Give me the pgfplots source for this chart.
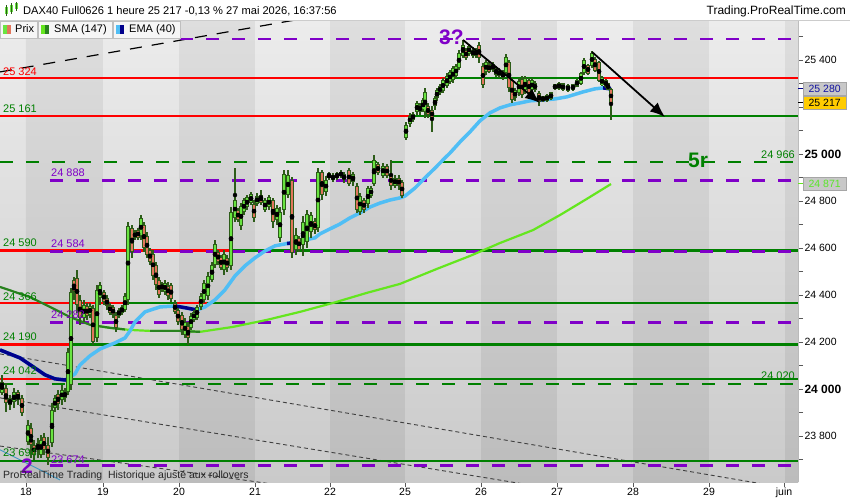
\documentclass[border=0pt]{standalone}
\usepackage{pgfplots}
\pgfplotsset{compat=1.18}
\usepackage{pgfplotstable}
\usepackage{fontspec}
\setmainfont{Liberation Sans}
\usetikzlibrary{arrows.meta}
\definecolor{rgreen}{RGB}{0,128,0}
\definecolor{rred}{RGB}{255,0,0}
\definecolor{rpurple}{RGB}{128,0,200}
\definecolor{candleline}{RGB}{45,92,25}
\definecolor{upfill}{RGB}{105,228,65}
\definecolor{downfill}{RGB}{226,118,92}
\definecolor{emalight}{RGB}{80,190,245}
\definecolor{emadark}{RGB}{0,0,140}
\definecolor{smalight}{RGB}{100,230,30}
\definecolor{smadark}{RGB}{40,130,30}
\definecolor{bltop}{RGB}{236,236,236}
\definecolor{blbot}{RGB}{202,202,202}
\definecolor{bdtop}{RGB}{222,222,222}
\definecolor{bdbot}{RGB}{188,188,188}

\pgfplotstableread{
x o h l c
2 23983 24060 23975 24030
10 23932 23975 23910 23962
14 23945 24004 23919 23987
28 23775 23868 23762 23847
38 23741 23792 23707 23770
41 23719 23805 23707 23783
52 23770 23940 23754 23910
55 23919 23975 23902 23962
62 23953 24017 23932 23996
68 23987 24175 23975 24158
71 24017 24430 23996 24413
84 24302 24379 24286 24358
90 24315 24366 24302 24353
97 24217 24443 24200 24421
100 24388 24456 24358 24443
119 24311 24345 24302 24336
122 24324 24358 24315 24349
125 24336 24409 24328 24396
128 24379 24711 24358 24694
135 24643 24676 24634 24668
141 24651 24740 24634 24727
162 24422 24456 24413 24447
165 24413 24464 24400 24451
185 24230 24302 24217 24285
191 24260 24324 24251 24311
194 24294 24336 24285 24328
197 24302 24358 24294 24349
201 24349 24409 24336 24396
204 24379 24464 24366 24451
208 24396 24498 24379 24481
212 24464 24541 24456 24528
215 24528 24634 24515 24617
224 24507 24592 24485 24575
231 24524 24774 24507 24753
235 24727 24940 24710 24804
241 24693 24791 24676 24778
244 24753 24813 24740 24804
247 24774 24826 24761 24817
251 24791 24838 24783 24830
257 24787 24834 24778 24821
265 24761 24813 24753 24804
269 24774 24826 24761 24817
277 24719 24783 24698 24770
280 24643 24774 24626 24753
284 24761 24932 24740 24915
288 24826 24932 24813 24911
296 24592 24685 24571 24655
303 24613 24736 24566 24710
307 24626 24761 24600 24745
311 24668 24753 24643 24740
318 24685 24940 24668 24923
326 24838 24906 24821 24889
329 24898 24923 24889 24919
333 24889 24919 24881 24911
341 24906 24932 24898 24923
353 24881 24923 24864 24915
360 24753 24834 24740 24821
368 24787 24864 24770 24855
371 24821 24864 24813 24855
374 24872 24996 24864 24974
383 24906 24962 24898 24949
395 24864 24911 24855 24898
406 25068 25137 25060 25124
410 25128 25175 25115 25162
417 25179 25226 25166 25217
423 25187 25238 25179 25230
425 25179 25281 25153 25264
435 25204 25247 25187 25238
437 25238 25281 25226 25272
440 25260 25298 25251 25289
443 25268 25323 25260 25315
447 25289 25345 25281 25332
450 25306 25357 25298 25349
453 25315 25374 25302 25366
456 25332 25383 25323 25374
459 25366 25443 25357 25430
463 25417 25485 25408 25464
469 25426 25468 25417 25460
476 25417 25451 25408 25443
486 25349 25400 25336 25391
493 25357 25391 25349 25383
503 25323 25357 25315 25349
506 25345 25426 25332 25413
515 25238 25281 25226 25272
519 25260 25323 25247 25311
525 25272 25332 25255 25323
532 25272 25323 25264 25315
543 25226 25247 25221 25245
547 25226 25255 25221 25250
551 25234 25264 25230 25262
555 25277 25298 25272 25296
563 25272 25302 25268 25300
573 25272 25298 25268 25296
577 25287 25319 25283 25315
581 25300 25349 25294 25345
584 25345 25408 25336 25400
592 25375 25438 25366 25430
602 25292 25332 25289 25326
606 25285 25319 25281 25315
}\upc

\pgfplotstableread{
x o h l c
6 24004 24026 23902 23940
18 23987 23996 23932 23953
22 23962 23975 23885 23898
31 23834 23855 23707 23762
34 23762 23783 23698 23719
44 23796 23813 23719 23741
48 23762 23796 23677 23707
58 23979 23996 23910 23936
65 23992 24004 23945 23962
74 24464 24477 24379 24413
77 24472 24506 24324 24358
80 24379 24400 24273 24302
87 24353 24366 24294 24311
93 24345 24358 24187 24200
104 24413 24422 24358 24370
107 24388 24400 24336 24353
110 24358 24366 24315 24324
113 24349 24358 24302 24315
116 24315 24328 24243 24260
132 24685 24698 24558 24583
138 24676 24685 24634 24643
144 24698 24710 24583 24600
147 24651 24668 24558 24571
150 24592 24600 24528 24541
153 24575 24592 24464 24481
156 24528 24541 24422 24443
159 24464 24477 24388 24400
168 24439 24456 24379 24396
171 24443 24451 24370 24383
175 24366 24379 24319 24328
178 24336 24345 24273 24285
182 24315 24328 24230 24251
188 24268 24285 24187 24217
218 24583 24592 24528 24541
221 24562 24571 24507 24515
227 24558 24571 24498 24515
238 24761 24770 24710 24719
254 24787 24804 24710 24727
261 24826 24847 24783 24791
273 24804 24813 24685 24710
292 24889 24902 24558 24579
299 24643 24651 24583 24592
315 24715 24727 24660 24676
322 24923 24932 24804 24826
337 24919 24923 24889 24898
344 24915 24923 24877 24889
349 24932 24940 24864 24872
357 24864 24877 24749 24761
364 24804 24813 24749 24761
378 24957 24966 24911 24919
387 24949 24957 24898 24906
391 24911 24974 24847 24864
399 24898 24911 24847 24864
402 24881 24889 24813 24821
413 25170 25179 25136 25145
420 25209 25217 25166 25179
428 25204 25217 25153 25166
432 25187 25204 25094 25153
466 25443 25451 25400 25408
473 25443 25455 25408 25417
479 25464 25477 25387 25408
483 25374 25387 25281 25294
489 25383 25391 25345 25349
496 25366 25374 25328 25336
499 25357 25366 25323 25332
509 25391 25400 25264 25281
512 25315 25323 25217 25230
522 25319 25332 25238 25251
529 25315 25323 25247 25260
535 25302 25311 25264 25272
539 25260 25268 25204 25221
559 25302 25306 25272 25277
568 25293 25298 25264 25268
588 25378 25383 25336 25341
595 25404 25413 25349 25353
599 25391 25396 25306 25311
608 25300 25302 25272 25274
611 25277 25281 25145 25217
}\downc

\begin{document}
\begin{tikzpicture}[x=1pt,y=1pt]
\useasboundingbox (0,0) rectangle (850,500);
\fill[white] (0,0) rectangle (850,500);
\begin{axis}[
  at={(0pt,18pt)}, anchor=south west, scale only axis,
  width=798pt, height=462pt,
  xmin=0, xmax=798, ymin=23604, ymax=25570,
  axis x line*=bottom, axis y line*=right,
  axis line style={draw=gray!55, line width=0.8pt},
  xtick={26,103,179,255,330,405,481,557,633,709,784},
  xticklabels={18,19,20,21,22,25,26,27,28,29,juin},
  ytick={23800,24000,24200,24400,24600,24800,25000,25200,25400},
  yticklabels={23 800,{\fontsize{12}{14}\selectfont\bfseries 24 000},24 200,24 400,24 600,24 800,{\fontsize{12}{14}\selectfont\bfseries 25 000},{},25 400},
  minor ytick={23700,23900,24100,24300,24500,24700,24900,25100,25300,25500},
  tick align=outside, major tick length=5pt, minor tick length=5pt,
  tick style={draw=gray!70!black, line width=0.6pt},
  xticklabel style={font=\fontsize{10.5}{12}\selectfont, yshift=2.5pt},
  yticklabel style={font=\fontsize{10.5}{12}\selectfont, anchor=west, xshift=-2pt},
  clip=true,
]
% day bands
\fill[top color=bltop, bottom color=blbot] (axis cs:0,23604) rectangle (axis cs:26,25570);
\fill[top color=bdtop, bottom color=bdbot] (axis cs:26,23604) rectangle (axis cs:103,25570);
\fill[top color=bltop, bottom color=blbot] (axis cs:103,23604) rectangle (axis cs:179,25570);
\fill[top color=bdtop, bottom color=bdbot] (axis cs:179,23604) rectangle (axis cs:255,25570);
\fill[top color=bltop, bottom color=blbot] (axis cs:255,23604) rectangle (axis cs:330,25570);
\fill[top color=bdtop, bottom color=bdbot] (axis cs:330,23604) rectangle (axis cs:405,25570);
\fill[top color=bltop, bottom color=blbot] (axis cs:405,23604) rectangle (axis cs:481,25570);
\fill[top color=bdtop, bottom color=bdbot] (axis cs:481,23604) rectangle (axis cs:557,25570);
\fill[top color=bltop, bottom color=blbot] (axis cs:557,23604) rectangle (axis cs:633,25570);
\fill[top color=bdtop, bottom color=bdbot] (axis cs:633,23604) rectangle (axis cs:709,25570);
\fill[top color=bltop, bottom color=blbot] (axis cs:709,23604) rectangle (axis cs:785,25570);
\fill[top color=bdtop, bottom color=bdbot] (axis cs:785,23604) rectangle (axis cs:798,25570);

% trend lines
\addplot[black, line width=1.2pt, dash pattern=on 12pt off 10pt] coordinates {(0,25349)(330,25596)};
\addplot[black!75, line width=0.9pt, dash pattern=on 4pt off 3pt] coordinates {(0,24149)(798,23570)};
\addplot[black!75, line width=0.9pt, dash pattern=on 4pt off 3pt] coordinates {(0,23962)(560,23570)};
\addplot[black!75, line width=0.9pt, dash pattern=on 4pt off 3pt] coordinates {(0,23757)(300,23579)};
\addplot[emalight!80!black, line width=0.9pt] coordinates {(0,23741)(60,23613)};

% horizontal levels
\addplot[rred, line width=2.5pt] coordinates {(0,25324)(798,25324)};
\addplot[rgreen, line width=2.5pt] coordinates {(455,25324)(600,25324)};
\addplot[rred, line width=2.5pt] coordinates {(0,25161)(412,25161)};
\addplot[rgreen, line width=2.5pt] coordinates {(412,25161)(798,25161)};
\addplot[rred, line width=2.5pt] coordinates {(0,24590)(232,24590)};
\addplot[rgreen, line width=2.5pt] coordinates {(232,24590)(798,24590)};
\addplot[rred, line width=2.5pt] coordinates {(0,24366)(127,24366)};
\addplot[rgreen, line width=2.5pt] coordinates {(127,24366)(177,24366)};
\addplot[rred, line width=2.5pt] coordinates {(177,24366)(207,24366)};
\addplot[rgreen, line width=2.5pt] coordinates {(207,24366)(798,24366)};
\addplot[rred, line width=2.5pt] coordinates {(0,24190)(70,24190)};
\addplot[rgreen, line width=2.5pt] coordinates {(70,24190)(798,24190)};
\addplot[rred, line width=2.5pt] coordinates {(0,24042)(65,24042)};
\addplot[rgreen, line width=2.5pt] coordinates {(65,24042)(798,24042)};
\addplot[rgreen, line width=2.5pt] coordinates {(0,23694)(798,23694)};
\addplot[rgreen, line width=2.5pt, dash pattern=on 13pt off 13pt] coordinates {(0,24966)(798,24966)};
\addplot[rgreen, line width=2.5pt, dash pattern=on 13pt off 13pt] coordinates {(0,24020)(798,24020)};
\addplot[rpurple, line width=2.5pt, dash pattern=on 13pt off 13pt] coordinates {(180,25490)(798,25490)};
\addplot[rpurple, line width=2.5pt, dash pattern=on 13pt off 13pt] coordinates {(50,24888)(798,24888)};
\addplot[rpurple, line width=2.5pt, dash pattern=on 13pt off 13pt] coordinates {(50,24584)(798,24584)};
\addplot[rpurple, line width=2.5pt, dash pattern=on 13pt off 13pt] coordinates {(50,24282)(798,24282)};
\addplot[rpurple, line width=2.5pt, dash pattern=on 13pt off 13pt] coordinates {(50,23674)(798,23674)};

% SMA 147
\addplot[smalight, line width=2.2pt] coordinates {(100,24266)(110,24260)(130,24251)(150,24247)(180,24247)(200,24243)(233,24264)(267,24294)(300,24328)(333,24366)(367,24409)(400,24447)(437,24511)(470,24566)(500,24621)(533,24676)(560,24740)(585,24804)(611,24872)};
\addplot[smadark, line width=2.2pt] coordinates {(0,24434)(30,24391)(50,24349)(70,24306)(90,24273)(110,24260)(125,24253)};
\addplot[smadark, line width=2.2pt] coordinates {(150,24247)(180,24247)(200,24243)};

% EMA 40
\addplot[emalight, line width=3.5pt] coordinates {(0,24166)(20,24132)(35,24089)(45,24060)(55,24043)(65,24038)(75,24064)(80,24102)(90,24141)(100,24170)(115,24196)(125,24217)(130,24247)(135,24285)(145,24328)(160,24349)(175,24353)(197,24336)(205,24349)(215,24379)(225,24422)(235,24481)(245,24524)(255,24558)(265,24587)(275,24609)(290,24621)(305,24634)(315,24643)(320,24660)(330,24681)(340,24702)(350,24728)(360,24749)(370,24774)(380,24791)(390,24804)(400,24813)(405,24821)(415,24855)(425,24898)(435,24940)(445,24983)(450,25004)(460,25051)(470,25094)(480,25141)(490,25175)(500,25196)(510,25209)(520,25217)(530,25226)(543,25230)(555,25234)(567,25243)(583,25264)(595,25277)(603,25281)(611,25277)};
\addplot[emadark, line width=3.5pt] coordinates {(0,24166)(20,24132)(35,24089)(45,24060)(55,24043)(65,24038)(69,24042)};
\addplot[emadark, line width=3.5pt] coordinates {(175,24353)(186,24345)(197,24336)};
\addplot[emadark, line width=3.5pt] coordinates {(287,24619)(292,24621)};
\addplot[emadark, line width=3.5pt] coordinates {(539,25229)(545,25231)};
\addplot[emadark, line width=3.5pt] coordinates {(603,25281)(611,25277)};

% candles: wicks
\addplot[only marks, mark=none, error bars/.cd, y dir=both, y explicit, error mark=none,
  error bar style={line width=1.2pt, draw=candleline, solid}]
  table[x=x, y expr={(\thisrow{h}+\thisrow{l})/2}, y error expr={(\thisrow{h}-\thisrow{l})/2}] {\upc};
\addplot[only marks, mark=none, error bars/.cd, y dir=both, y explicit, error mark=none,
  error bar style={line width=1.2pt, draw=candleline, solid}]
  table[x=x, y expr={(\thisrow{h}+\thisrow{l})/2}, y error expr={(\thisrow{h}-\thisrow{l})/2}] {\downc};
% bodies outline
\addplot[only marks, mark=none, error bars/.cd, y dir=both, y explicit, error mark=none,
  error bar style={line width=3.3pt, draw=candleline, line cap=butt, solid}]
  table[x=x, y expr={(\thisrow{o}+\thisrow{c})/2}, y error expr={abs(\thisrow{c}-\thisrow{o})/2+0.25}] {\upc};
\addplot[only marks, mark=none, error bars/.cd, y dir=both, y explicit, error mark=none,
  error bar style={line width=3.3pt, draw=candleline, line cap=butt, solid}]
  table[x=x, y expr={(\thisrow{o}+\thisrow{c})/2}, y error expr={abs(\thisrow{c}-\thisrow{o})/2+0.25}] {\downc};
% bodies fill
\addplot[only marks, mark=none, error bars/.cd, y dir=both, y explicit, error mark=none,
  error bar style={line width=1.7pt, draw=upfill, line cap=butt, solid}]
  table[x=x, y expr={(\thisrow{o}+\thisrow{c})/2}, y error expr={max(abs(\thisrow{c}-\thisrow{o})/2-3.5,0)}] {\upc};
\addplot[only marks, mark=none, error bars/.cd, y dir=both, y explicit, error mark=none,
  error bar style={line width=1.7pt, draw=downfill, line cap=butt, solid}]
  table[x=x, y expr={(\thisrow{o}+\thisrow{c})/2}, y error expr={max(abs(\thisrow{c}-\thisrow{o})/2-3.5,0)}] {\downc};

% arrows
\addplot[black, line width=1.8pt, -{Latex[length=15pt,width=12pt]}] coordinates {(463,25485)(540,25217)};
\addplot[black, line width=1.8pt, -{Latex[length=15pt,width=12pt]}] coordinates {(592,25434)(665,25157)};
\end{axis}

% ---- overlays (pixel coordinates, y flipped) ----
\def\fs{\fontsize{11}{13}\selectfont}
\node[anchor=base west, inner sep=0, text=rred, font=\fs] at (3,424) {25 324};
\node[anchor=base west, inner sep=0, text=rgreen, font=\fs] at (3,387) {25 161};
\node[anchor=base west, inner sep=0, text=rgreen, font=\fs] at (3,253) {24 590};
\node[anchor=base west, inner sep=0, text=rpurple, font=\fs] at (51,252) {24 584};
\node[anchor=base west, inner sep=0, text=rpurple, font=\fs] at (51,323) {24 888};
\node[anchor=base west, inner sep=0, text=rgreen, font=\fs] at (3,199) {24 366};
\node[anchor=base west, inner sep=0, text=rpurple, font=\fs] at (51,181) {24 282};
\node[anchor=base west, inner sep=0, text=rgreen, font=\fs] at (3,159) {24 190};
\node[anchor=base west, inner sep=0, text=rgreen, font=\fs] at (3,125) {24 042};
\node[anchor=base west, inner sep=0, text=rgreen, font=\fs] at (3,43) {23 694};
\node[anchor=base west, inner sep=0, text=rpurple, font=\fs] at (51,37) {23 674};
\node[anchor=base east, inner sep=0, text=rgreen, font=\fs] at (795,341) {24 966};
\node[anchor=base east, inner sep=0, text=rgreen, font=\fs] at (795,120) {24 020};
\node[anchor=base west, inner sep=0, text=rgreen, font=\fontsize{21}{24}\selectfont\bfseries] at (688,332) {5r};
\node[anchor=base west, inner sep=0, text=rpurple, font=\fontsize{21}{24}\selectfont\bfseries] at (439,455) {3?};
\node[anchor=base west, inner sep=0, text=rpurple, font=\fontsize{21}{24}\selectfont\bfseries] at (21,27) {2};
\node[anchor=base west, inner sep=0, text=black!85, font=\fontsize{10.5}{12}\selectfont] at (3,22) {ProRealTime Trading\ \ Historique ajusté aux rollovers};

% right price boxes
\draw[emadark, line width=1pt] (798,411) -- (804,411);
\node[fill={rgb,255:red,200;green,200;blue,200}, draw=gray!70, text={rgb,255:red,20;green,20;blue,160}, font=\fontsize{10.5}{12}\selectfont, inner sep=1pt, minimum width=43pt, minimum height=13pt, anchor=west] at (803,411.5) {25 280};
\draw[black, line width=1pt] (798,397) -- (804,397);
\node[fill={rgb,255:red,255;green,204;blue,0}, draw=gray!70, text=black, font=\fontsize{10.5}{12}\selectfont, inner sep=1pt, minimum width=43pt, minimum height=13pt, anchor=west] at (803,397) {25 217};
\draw[smalight, line width=1pt] (798,316) -- (804,316);
\node[fill={rgb,255:red,200;green,200;blue,200}, draw=gray!70, text={rgb,255:red,90;green,230;blue,40}, font=\fontsize{10.5}{12}\selectfont, inner sep=1pt, minimum width=43pt, minimum height=13pt, anchor=west] at (803,316) {24 871};

% title bar
\fill[white] (0,480) rectangle (850,500);
\draw[gray!40] (0,480) -- (850,480);
\fill[upfill] (5,486) rectangle (7.5,493);
\draw[candleline,line width=0.6pt] (6.25,484) -- (6.25,495);
\fill[upfill] (10,488) rectangle (12.5,495);
\draw[candleline,line width=0.6pt] (11.25,486) -- (11.25,497);
\fill[upfill] (15,491) rectangle (17.5,497);
\draw[candleline,line width=0.6pt] (16.25,489) -- (16.25,498);
\node[anchor=base west, inner sep=0, font=\fontsize{11.1}{13}\selectfont] at (23,485) {DAX40 Full0626 1 heure 25 217 -0,13 \% 27 mai 2026, 16:37:56};
\node[anchor=base east, inner sep=0, font=\fontsize{12}{13}\selectfont] at (846,485.5) {Trading.ProRealTime.com};

% legend boxes
\draw[gray!50, fill=gray!7] (0,462) rectangle (37,479);
\fill[upfill] (3,466) rectangle (7,475);
\fill[downfill] (7,466) rectangle (11,475);
\node[anchor=base west, inner sep=0, font=\fontsize{11}{13}\selectfont] at (15,467) {Prix};
\draw[gray!50, fill=gray!7] (38,462) rectangle (112,479);
\fill[smalight] (41,466) rectangle (45,475);
\fill[smadark] (45,466) rectangle (49,475);
\node[anchor=base west, inner sep=0, font=\fontsize{11}{13}\selectfont] at (54,467) {SMA (147)};
\draw[gray!50, fill=gray!7] (113,462) rectangle (180,479);
\fill[emalight] (116,466) rectangle (120,475);
\fill[emadark] (120,466) rectangle (124,475);
\node[anchor=base west, inner sep=0, font=\fontsize{11}{13}\selectfont] at (129,467) {EMA (40)};
\end{tikzpicture}
\end{document}
